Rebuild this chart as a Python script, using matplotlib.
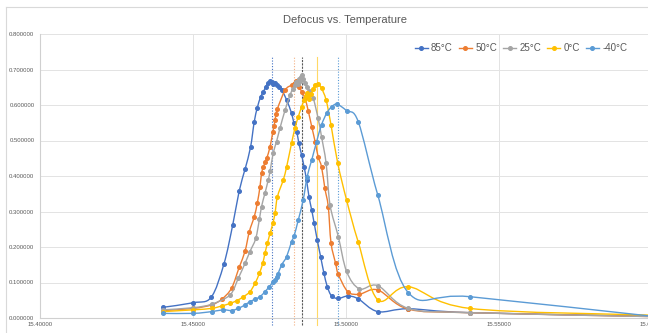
import matplotlib
matplotlib.use("Agg")
import matplotlib.pyplot as plt
from matplotlib.lines import Line2D
from matplotlib.path import Path
from matplotlib.patches import PathPatch

plt.rcParams['font.family'] = ['Liberation Sans', 'DejaVu Sans']

labels = ["85°C", "50°C", "25°C", "0°C", "-40°C"]
colors = ["#4472C4", "#ED7D31", "#A5A5A5", "#FFC000", "#5B9BD5"]

x85 = [15.4401, 15.4501, 15.4559, 15.4601, 15.4630, 15.4651, 15.4670, 15.4688, 15.4700, 15.4710,
       15.4721, 15.4730, 15.4738, 15.4746, 15.4752, 15.4757, 15.4762, 15.4767, 15.4773, 15.4780,
       15.4790, 15.4806, 15.4822, 15.4830, 15.4839, 15.4846, 15.4855, 15.4863, 15.4871, 15.4879,
       15.4888, 15.4896, 15.4906, 15.4917, 15.4928, 15.4939, 15.4953, 15.4975, 15.5006, 15.5040,
       15.5104, 15.5204, 15.5405, 15.6000]
y85 = [0.030, 0.043, 0.058, 0.152, 0.263, 0.358, 0.419, 0.481, 0.552, 0.592,
       0.623, 0.637, 0.652, 0.663, 0.667, 0.666, 0.660, 0.662, 0.656, 0.650,
       0.642, 0.614, 0.577, 0.548, 0.525, 0.492, 0.459, 0.426, 0.389, 0.342,
       0.304, 0.267, 0.220, 0.173, 0.126, 0.088, 0.062, 0.055, 0.062, 0.054,
       0.018, 0.026, 0.015, 0.005]

x50 = [15.4401, 15.4501, 15.4561, 15.4594, 15.4626, 15.4651, 15.4670, 15.4684, 15.4700, 15.4710,
       15.4719, 15.4724, 15.4730, 15.4736, 15.4741, 15.4752, 15.4761, 15.4765, 15.4768, 15.4772,
       15.4776, 15.4801, 15.4822, 15.4830, 15.4833, 15.4836, 15.4840, 15.4844, 15.4848, 15.4855,
       15.4866, 15.4877, 15.4888, 15.4899, 15.4909, 15.4920, 15.4931, 15.4942, 15.4951, 15.4966,
       15.4975, 15.5006, 15.5044, 15.5104, 15.5204, 15.5405, 15.6000]
y50 = [0.021, 0.027, 0.037, 0.053, 0.084, 0.143, 0.188, 0.243, 0.285, 0.323,
       0.370, 0.408, 0.425, 0.440, 0.450, 0.483, 0.525, 0.540, 0.558, 0.575,
       0.590, 0.642, 0.656, 0.660, 0.663, 0.668, 0.666, 0.660, 0.650, 0.638,
       0.619, 0.582, 0.539, 0.497, 0.454, 0.426, 0.365, 0.314, 0.212, 0.154,
       0.123, 0.074, 0.067, 0.079, 0.025, 0.015, 0.004]

x25 = [15.4401, 15.4501, 15.4561, 15.4621, 15.4648, 15.4670, 15.4686, 15.4705, 15.4717, 15.4724,
       15.4735, 15.4746, 15.4752, 15.4762, 15.4773, 15.4784, 15.4801, 15.4817, 15.4826, 15.4833,
       15.4838, 15.4842, 15.4846, 15.4850, 15.4852, 15.4856, 15.4860, 15.4865, 15.4871, 15.4880,
       15.4893, 15.4909, 15.4920, 15.4935, 15.4948, 15.4975, 15.5002, 15.5044, 15.5104, 15.5204,
       15.5405, 15.6000]
y25 = [0.023, 0.029, 0.039, 0.065, 0.112, 0.154, 0.187, 0.224, 0.278, 0.314,
       0.351, 0.389, 0.414, 0.464, 0.497, 0.534, 0.586, 0.628, 0.645, 0.656,
       0.665, 0.660, 0.672, 0.668, 0.680, 0.684, 0.672, 0.662, 0.652, 0.640,
       0.619, 0.562, 0.511, 0.436, 0.318, 0.229, 0.131, 0.082, 0.091, 0.027,
       0.015, 0.004]

x0 = [15.4401, 15.4501, 15.4561, 15.4594, 15.4621, 15.4643, 15.4665, 15.4686, 15.4703, 15.4717,
      15.4728, 15.4735, 15.4743, 15.4752, 15.4761, 15.4768, 15.4776, 15.4795, 15.4806, 15.4822,
      15.4833, 15.4844, 15.4855, 15.4863, 15.4868, 15.4871, 15.4875, 15.4880, 15.4886, 15.4893,
      15.4899, 15.4909, 15.4920, 15.4935, 15.4951, 15.4973, 15.5002, 15.5040, 15.5104, 15.5204,
      15.5405, 15.6000]
y0 = [0.018, 0.023, 0.027, 0.034, 0.041, 0.049, 0.060, 0.074, 0.098, 0.126,
      0.154, 0.182, 0.210, 0.239, 0.267, 0.295, 0.342, 0.389, 0.426, 0.492,
      0.534, 0.567, 0.595, 0.614, 0.625, 0.633, 0.628, 0.618, 0.630, 0.645,
      0.656, 0.659, 0.647, 0.614, 0.544, 0.436, 0.332, 0.214, 0.051, 0.088,
      0.027, 0.008]

xm40 = [15.4401, 15.4501, 15.4561, 15.4599, 15.4626, 15.4648, 15.4670, 15.4686, 15.4703, 15.4719,
        15.4735, 15.4749, 15.4762, 15.4768, 15.4773, 15.4778, 15.4790, 15.4806, 15.4822, 15.4830,
        15.4844, 15.4860, 15.4873, 15.4888, 15.4904, 15.4920, 15.4937, 15.4953, 15.4971, 15.5002,
        15.5040, 15.5104, 15.5204, 15.5405, 15.6000]
ym40 = [0.013, 0.013, 0.018, 0.023, 0.021, 0.027, 0.037, 0.046, 0.053, 0.060,
        0.074, 0.088, 0.102, 0.108, 0.116, 0.125, 0.150, 0.173, 0.215, 0.230,
        0.276, 0.332, 0.398, 0.445, 0.497, 0.544, 0.577, 0.595, 0.602, 0.584,
        0.553, 0.346, 0.071, 0.060, 0.005]

peak_positions = [15.4758, 15.4831, 15.4856, 15.4905, 15.4974]
peak_styles = [(0, (1, 1.5)), (0, (1, 1.5)), (0, (2, 1)), "-", (0, (1, 1.5))]
peak_colors = ["#4472C4", "#F4B183", "#595959", "#FFD966", "#5B9BD5"]

y_ticks = [0.0, 0.1, 0.2, 0.3, 0.4, 0.5, 0.6, 0.7, 0.8]
x_ticks = [15.40, 15.45, 15.50, 15.55, 15.60]


def smooth_path(xs, ys):
    """Bezier path through the data points (Excel-style smoothed line)."""
    n = len(xs)
    verts = [(xs[0], ys[0])]
    codes = [Path.MOVETO]
    for i in range(n - 1):
        i0 = max(i - 1, 0)
        i3 = min(i + 2, n - 1)
        c1 = (xs[i] + (xs[i + 1] - xs[i0]) / 6.0, ys[i] + (ys[i + 1] - ys[i0]) / 6.0)
        c2 = (xs[i + 1] - (xs[i3] - xs[i]) / 6.0, ys[i + 1] - (ys[i3] - ys[i]) / 6.0)
        verts += [c1, c2, (xs[i + 1], ys[i + 1])]
        codes += [Path.CURVE4] * 3
    return Path(verts, codes)


fig = plt.figure(figsize=(6.48, 3.33), dpi=100)
fig.add_artist(Line2D([6/648, 1], [1 - 7/333, 1 - 7/333], transform=fig.transFigure, color="#D9D9D9", lw=0.8))
fig.add_artist(Line2D([6/648, 6/648], [0, 1 - 7/333], transform=fig.transFigure, color="#D9D9D9", lw=0.8))

ax = fig.add_axes([40/648, 15/333, 612/648, 284/333])
ax.set_xlim(15.40, 15.60)
ax.set_ylim(0.0, 0.8)

series = [(x85, y85), (x50, y50), (x25, y25), (x0, y0), (xm40, ym40)]
for (xs, ys), lab, col in zip(series, labels, colors):
    ax.add_patch(PathPatch(smooth_path(xs, ys), facecolor="none", edgecolor=col, lw=1.0, zorder=3))
    ax.plot(xs, ys, linestyle="none", color=col, marker="o", markersize=2.6, zorder=3)
    ax.plot([], [], color=col, lw=1.0, marker="o", markersize=2.6, label=lab)

for xp, st, c in zip(peak_positions, peak_styles, peak_colors):
    ax.plot([xp, xp], [-0.02, 0.735], color=c, lw=0.8, linestyle=st, clip_on=False, zorder=2)

ax.set_xticks(x_ticks)
ax.set_xticklabels([f"{v:.5f}" for v in x_ticks])
ax.set_yticks(y_ticks)
ax.set_yticklabels([f"{v:.6f}" for v in y_ticks])
ax.tick_params(axis="both", length=0, labelsize=4.3, labelcolor="#595959")
ax.tick_params(axis="x", pad=3)
ax.tick_params(axis="y", pad=4)
ax.grid(True, color="#E3E3E3", lw=0.7, zorder=0)
for s in ["top", "right"]:
    ax.spines[s].set_visible(False)
for s in ["left", "bottom"]:
    ax.spines[s].set_color("#D0D0D0")
    ax.spines[s].set_linewidth(0.8)

fig.text(345/648, 1 - 20/333, "Defocus vs. Temperature", ha="center", va="center",
         fontsize=8, color="#595959")

leg = ax.legend(loc="center right", bbox_to_anchor=(632/648, 1 - 48/333), bbox_transform=fig.transFigure,
                ncol=5, frameon=False, fontsize=7, handlelength=1.4, handletextpad=0.3,
                columnspacing=0.6, borderpad=0)
for t in leg.get_texts():
    t.set_color("#595959")

fig.savefig("out.png", dpi=100)
